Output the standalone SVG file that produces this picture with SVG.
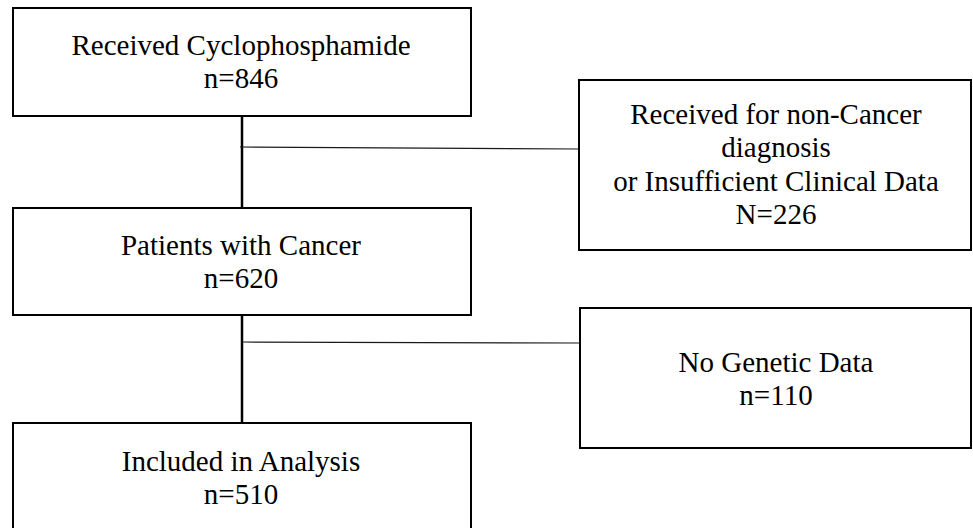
<svg xmlns="http://www.w3.org/2000/svg" width="973" height="528" viewBox="0 0 973 528">
  <style>
    .box { fill: #ffffff; stroke: #000000; stroke-width: 2; }
    .t { font-family: "Liberation Serif", "Times New Roman", serif; font-size: 29px; fill: #000000; text-anchor: middle; }
    .main { stroke: #000000; stroke-width: 2.5; fill: none; }
    .side { stroke: #1a1a1a; stroke-width: 1.2; fill: none; }
  </style>
  <rect width="973" height="528" fill="#ffffff"/>
  <g id="connectors">
    <line class="main" x1="242" y1="116" x2="242" y2="208"/>
    <line class="main" x1="242" y1="315" x2="242" y2="423"/>
    <line class="side" x1="240" y1="147" x2="579" y2="149"/>
    <line class="side" x1="243" y1="342" x2="579" y2="343"/>
  </g>
  <g id="node-received">
    <rect class="box" x="13" y="8" width="458" height="108"/>
    <text class="t" x="241" y="55">Received Cyclophosphamide</text>
    <text class="t" x="241" y="88">n=846</text>
  </g>
  <g id="node-excluded1">
    <rect class="box" x="579" y="80" width="392" height="170"/>
    <text class="t" x="776" y="123.5">Received for non-Cancer</text>
    <text class="t" x="776" y="157">diagnosis</text>
    <text class="t" x="776" y="190.5">or Insufficient Clinical Data</text>
    <text class="t" x="776" y="224">N=226</text>
  </g>
  <g id="node-cancer">
    <rect class="box" x="13" y="208" width="458" height="107"/>
    <text class="t" x="241" y="255">Patients with Cancer</text>
    <text class="t" x="241" y="288">n=620</text>
  </g>
  <g id="node-excluded2">
    <rect class="box" x="580" y="308" width="391" height="140"/>
    <text class="t" x="776" y="372">No Genetic Data</text>
    <text class="t" x="776" y="405">n=110</text>
  </g>
  <g id="node-included">
    <rect class="box" x="13" y="423" width="458" height="120"/>
    <text class="t" x="241" y="471">Included in Analysis</text>
    <text class="t" x="241" y="504">n=510</text>
  </g>
</svg>
